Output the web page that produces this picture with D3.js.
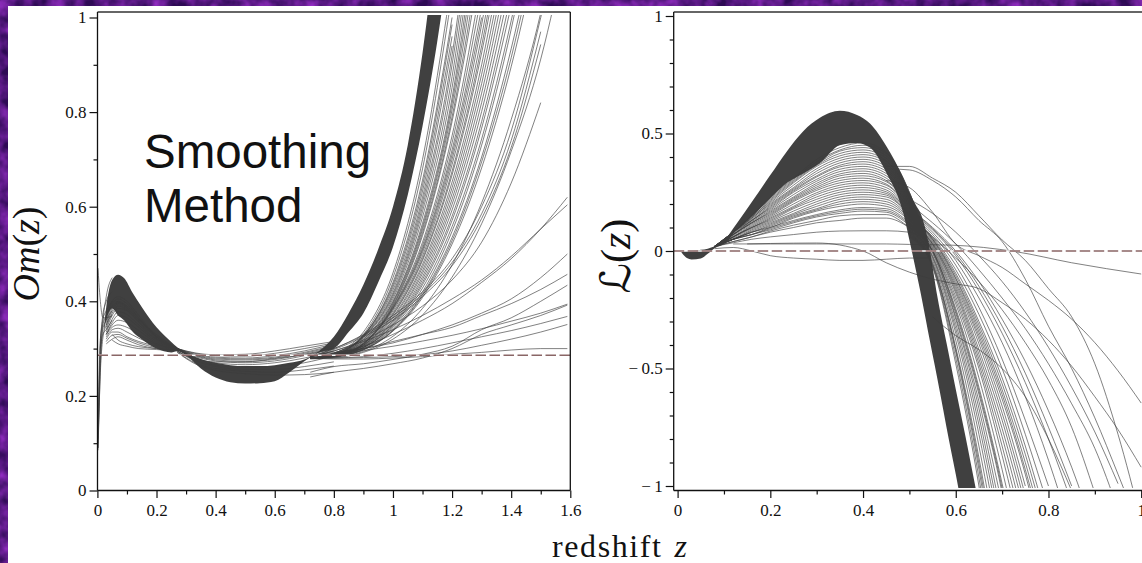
<!DOCTYPE html>
<html>
<head>
<meta charset="utf-8">
<script src="https://cdnjs.cloudflare.com/ajax/libs/d3/7.8.5/d3.min.js"></script>
<style>
  html, body { margin: 0; padding: 0; background: #3c0c74; overflow: hidden; }
  text { font-family: "Liberation Serif", serif; fill: #111; }
</style>
</head>
<body>
<svg id="chart" width="1142" height="563"></svg>
<script>
// --- left panel, Om(z) ---
const omYMajor = [0, 0.2, 0.4, 0.6, 0.8, 1];
const omYMinor = [0.1, 0.3, 0.5, 0.7, 0.9];
const omXMajor = [0, 0.2, 0.4, 0.6, 0.8, 1, 1.2, 1.4, 1.6];
const omXMinor = [0.1, 0.3, 0.5, 0.7, 0.9, 1.1, 1.3, 1.5];
const omReference = 0.286;

// the part where the curves are too dense to tell apart
const omBandZ = [0.02, 0.03, 0.05, 0.07, 0.09, 0.12, 0.15, 0.2, 0.25, 0.27, 0.3, 0.35, 0.4, 0.45, 0.5, 0.55, 0.6, 0.65, 0.7, 0.75, 0.8, 0.85, 0.9, 0.95, 1, 1.05, 1.1, 1.15, 1.2];
const omBandTop = [0.33, 0.388, 0.445, 0.456, 0.449, 0.417, 0.388, 0.345, 0.314, 0.303, 0.292, 0.278, 0.27, 0.265, 0.263, 0.263, 0.265, 0.27, 0.277, 0.295, 0.325, 0.375, 0.435, 0.51, 0.6, 0.73, 0.925, 1.18, 1.45];
const omBandBottom = [0.33, 0.36, 0.385, 0.37, 0.36, 0.335, 0.32, 0.3, 0.292, 0.295, 0.286, 0.258, 0.239, 0.229, 0.226, 0.227, 0.231, 0.25, 0.273, 0.292, 0.3, 0.335, 0.375, 0.44, 0.515, 0.625, 0.77, 0.95, 1.17];

const omSpikeZ = [0.002, 0.005, 0.01, 0.018, 0.03, 0.05];
const omSpikes = [
  [0.085, 0.15, 0.26, 0.35, 0.41, 0.45],
  [0.1, 0.19, 0.3, 0.37, 0.4, 0.42],
  [0.47, 0.44, 0.4, 0.366, 0.365, 0.37],
  [0.09, 0.17, 0.28, 0.34, 0.36, 0.38],
  [0.09, 0.16, 0.25, 0.32, 0.35, 0.37],
  [0.11, 0.2, 0.31, 0.36, 0.38, 0.4],
  [0.12, 0.22, 0.32, 0.35, 0.37, 0.39],
  [null, null, 0.3, 0.33, 0.34, 0.36],
];

const omLobeZ = [0.03, 0.05, 0.07, 0.1, 0.14, 0.2, 0.27];
const omLobes = [
  [0.37, 0.4, 0.41, 0.4, 0.37, 0.325, 0.3],
  [0.365, 0.395, 0.405, 0.395, 0.365, 0.322, 0.3],
  [0.36, 0.39, 0.4, 0.39, 0.365, 0.325, 0.3],
  [0.355, 0.385, 0.398, 0.387, 0.362, 0.328, 0.3],
  [0.35, 0.38, 0.395, 0.385, 0.36, 0.33, 0.3],
  [0.345, 0.375, 0.39, 0.382, 0.357, 0.325, 0.3],
  [0.34, 0.37, 0.385, 0.38, 0.355, 0.32, 0.3],
  [0.335, 0.362, 0.378, 0.372, 0.35, 0.318, 0.3],
  [0.33, 0.355, 0.37, 0.365, 0.345, 0.315, 0.3],
  [0.33, 0.35, 0.36, 0.355, 0.338, 0.312, 0.299],
  [0.33, 0.345, 0.35, 0.345, 0.33, 0.31, 0.298],
  [0.325, 0.34, 0.343, 0.335, 0.322, 0.308, 0.298],
  [0.32, 0.335, 0.335, 0.325, 0.315, 0.305, 0.297],
  [0.315, 0.328, 0.33, 0.322, 0.312, 0.302, 0.297],
  [0.31, 0.32, 0.325, 0.318, 0.308, 0.3, 0.296],
  [null, 0.318, 0.31, 0.305, 0.3, 0.298, 0.295],
  [null, 0.33, 0.318, 0.31, 0.304, 0.3, 0.296],
];

const omMidZ = [0.27, 0.33, 0.4, 0.5, 0.6, 0.7, 0.8];
const omMids = [
  [0.3, 0.291, 0.287, 0.288, 0.295, 0.305, 0.315],
  [0.3, 0.29, 0.285, 0.284, 0.29, 0.3, 0.312],
  [0.3, 0.288, 0.282, 0.28, 0.285, 0.295, 0.31],
  [0.3, 0.287, 0.28, 0.278, 0.282, 0.292, 0.307],
  [0.3, 0.286, 0.278, 0.276, 0.28, 0.29, 0.305],
  [0.299, 0.285, 0.276, 0.273, 0.277, 0.288, 0.302],
  [0.298, 0.283, 0.274, 0.27, 0.274, 0.285, 0.3],
  [0.298, 0.28, 0.27, 0.266, 0.27, 0.28, 0.295],
  [0.295, 0.278, 0.272, 0.272, 0.279, 0.287, 0.3],
  [0.295, 0.276, 0.265, 0.26, 0.262, 0.27, 0.285],
  [0.295, 0.274, 0.262, 0.256, 0.256, 0.262, 0.272],
  [0.293, 0.27, 0.258, 0.252, 0.25, 0.255, 0.263],
  [0.292, 0.268, 0.254, 0.247, 0.244, 0.245, 0.25],
];

const omRiseZ = [0.72, 0.8, 0.9, 1, 1.1, 1.2, 1.3, 1.4, 1.5, 1.59];
const omRises = [
  // the ones that reach the right edge
  [0.283, 0.3, 0.33, 0.37, 0.42, 0.49, 0.6, 0.76, 1, 1.25],
  [0.283, 0.3, 0.328, 0.365, 0.415, 0.482, 0.585, 0.74, 0.97],
  [0.283, 0.298, 0.325, 0.36, 0.41, 0.475, 0.575, 0.725, 0.943],
  [0.282, 0.295, 0.318, 0.35, 0.39, 0.445, 0.525, 0.65, 0.82],
  [0.28, 0.29, 0.305, 0.33, 0.36, 0.395, 0.44, 0.49, 0.553, 0.62],
  [0.283, 0.295, 0.315, 0.34, 0.37, 0.405, 0.445, 0.495, 0.553, 0.604],
  [0.285, 0.292, 0.3, 0.312, 0.33, 0.35, 0.375, 0.405, 0.45, 0.5],
  [0.283, 0.29, 0.3, 0.315, 0.33, 0.345, 0.37, 0.395, 0.425, 0.457],
  [0.25, 0.262, 0.268, 0.277, 0.288, 0.305, 0.34, 0.365, 0.4, 0.434],
  [0.283, 0.288, 0.296, 0.305, 0.316, 0.328, 0.342, 0.358, 0.375, 0.394],
  [0.24, 0.25, 0.258, 0.268, 0.28, 0.3, 0.33, 0.35, 0.37, 0.392],
  [0.278, 0.28, 0.283, 0.29, 0.3, 0.312, 0.325, 0.338, 0.353, 0.368],
  [0.28, 0.28, 0.281, 0.283, 0.287, 0.295, 0.307, 0.32, 0.335, 0.351],
  [0.28, 0.278, 0.278, 0.28, 0.283, 0.288, 0.292, 0.297, 0.3, 0.3],
  // the ones that leave through the top
  [0.28, 0.281, 0.292, 0.32, 0.371, 0.451, 0.564, 0.717, 0.912, 1.16],
  [0.28, 0.282, 0.294, 0.326, 0.385, 0.477, 0.608, 0.784, 1.01, 1.29],
  [0.28, 0.283, 0.297, 0.337, 0.408, 0.521, 0.682, 0.896, 1.17],
  [0.28, 0.283, 0.298, 0.338, 0.412, 0.528, 0.695, 0.915, 1.2],
  [0.28, 0.283, 0.298, 0.339, 0.415, 0.535, 0.705, 0.934, 1.22],
  [0.28, 0.283, 0.299, 0.342, 0.42, 0.548, 0.73, 0.975, 1.3],
  [0.28, 0.283, 0.3, 0.345, 0.428, 0.558, 0.743, 0.993, 1.3],
  [0.28, 0.284, 0.302, 0.348, 0.435, 0.571, 0.766, 1.025],
  [0.28, 0.284, 0.302, 0.35, 0.44, 0.58, 0.78, 1.05],
  [0.28, 0.284, 0.302, 0.352, 0.446, 0.593, 0.801, 1.08],
  [0.28, 0.284, 0.303, 0.355, 0.452, 0.605, 0.82, 1.11],
  [0.28, 0.285, 0.304, 0.358, 0.459, 0.616, 0.84, 1.14],
  [0.28, 0.285, 0.305, 0.36, 0.465, 0.628, 0.86, 1.17],
  [0.28, 0.285, 0.306, 0.364, 0.472, 0.64, 0.88, 1.2],
  [0.28, 0.285, 0.307, 0.367, 0.478, 0.652, 0.9, 1.24],
  [0.28, 0.285, 0.307, 0.371, 0.486, 0.667, 0.925, 1.27],
  [0.28, 0.285, 0.308, 0.373, 0.49, 0.675, 0.94, 1.3],
  [0.28, 0.285, 0.309, 0.376, 0.496, 0.689, 0.96, 1.33],
  [0.28, 0.285, 0.31, 0.38, 0.503, 0.7, 0.985, 1.36],
  [0.28, 0.285, 0.31, 0.383, 0.508, 0.71, 1],
  [0.28, 0.285, 0.31, 0.385, 0.512, 0.72, 1.02],
  [0.28, 0.285, 0.311, 0.386, 0.518, 0.735, 1.05],
  [0.28, 0.286, 0.312, 0.388, 0.525, 0.75, 1.08],
  [0.28, 0.286, 0.313, 0.39, 0.539, 0.78, 1.13],
  [0.28, 0.286, 0.315, 0.392, 0.545, 0.79, 1.16],
  [0.28, 0.286, 0.316, 0.395, 0.552, 0.805, 1.2],
  [0.28, 0.286, 0.318, 0.398, 0.558, 0.818, 1.24],
  [0.28, 0.286, 0.32, 0.4, 0.565, 0.83, 1.28],
  [0.28, 0.287, 0.32, 0.405, 0.578, 0.852, 1.31],
  [0.28, 0.287, 0.323, 0.41, 0.59, 0.875, 1.35],
  [0.28, 0.287, 0.324, 0.414, 0.6, 0.9, 1.38],
  [0.28, 0.287, 0.325, 0.418, 0.61, 0.92, 1.42],
  [0.28, 0.288, 0.326, 0.424, 0.62, 0.94],
  [0.28, 0.288, 0.327, 0.43, 0.633, 0.96],
  [0.28, 0.29, 0.328, 0.435, 0.645, 0.985],
  [0.28, 0.29, 0.327, 0.44, 0.656, 1],
  [0.28, 0.29, 0.33, 0.45, 0.68, 1.05],
  [0.28, 0.29, 0.335, 0.46, 0.7, 1.08],
];

// --- right panel, L(z) ---
const ellYMajor = [-1, -0.5, 0, 0.5, 1];
const ellYMinor = [-0.9, -0.8, -0.7, -0.6, -0.4, -0.3, -0.2, -0.1, 0.1, 0.2, 0.3, 0.4, 0.6, 0.7, 0.8, 0.9];
const ellXMajor = [0, 0.2, 0.4, 0.6, 0.8, 1];
const ellXMinor = [0.1, 0.3, 0.5, 0.7, 0.9];
const ellReference = 0;

const ellBandZ = [0.008, 0.02, 0.03, 0.05, 0.065, 0.08, 0.1, 0.128, 0.163, 0.2, 0.236, 0.271, 0.307, 0.35, 0.387, 0.415, 0.451, 0.487, 0.5, 0.516, 0.523, 0.54, 0.56, 0.573, 0.58, 0.6, 0.62, 0.642, 0.66];
const ellBandTop = [-0.005, 0, 0, 0.005, 0.01, 0.02, 0.045, 0.118, 0.217, 0.323, 0.425, 0.51, 0.567, 0.597, 0.579, 0.543, 0.444, 0.31, 0.25, 0.188, 0.165, 0.047, -0.19, -0.323, -0.39, -0.588, -0.78, -1, -1.18];
const ellBandBottom = [-0.005, -0.03, -0.036, -0.032, -0.012, 0.012, 0.03, 0.09, 0.153, 0.225, 0.29, 0.33, 0.374, 0.45, 0.46, 0.44, 0.33, 0.16, 0.047, -0.1, -0.166, -0.34, -0.54, -0.675, -0.75, -0.95, -1.16, -1.38, -1.58];

const ellArcZ = [0.08, 0.12, 0.16, 0.2, 0.25, 0.3, 0.35, 0.4, 0.45, 0.5, 0.54];
const ellArcs = [
  [0.02, 0.08, 0.15, 0.23, 0.31, 0.39, 0.44, 0.46, 0.42, 0.25, 0.02],
  [0.02, 0.08, 0.15, 0.225, 0.305, 0.38, 0.43, 0.45, 0.415, 0.25, 0.02],
  [0.02, 0.08, 0.15, 0.22, 0.3, 0.37, 0.425, 0.44, 0.405, 0.24, 0.02],
  [0.02, 0.08, 0.145, 0.215, 0.295, 0.365, 0.415, 0.43, 0.395, 0.24, 0.02],
  [0.02, 0.08, 0.145, 0.21, 0.29, 0.36, 0.405, 0.42, 0.385, 0.235, 0.02],
  [0.02, 0.08, 0.14, 0.205, 0.28, 0.35, 0.395, 0.41, 0.38, 0.23, 0.02],
  [0.02, 0.08, 0.14, 0.2, 0.27, 0.34, 0.385, 0.4, 0.37, 0.225, 0.02],
  [0.02, 0.08, 0.135, 0.195, 0.265, 0.33, 0.375, 0.39, 0.36, 0.22, 0.02],
  [0.02, 0.08, 0.13, 0.19, 0.26, 0.32, 0.365, 0.38, 0.35, 0.215, 0.02],
  [0.02, 0.075, 0.13, 0.185, 0.255, 0.315, 0.358, 0.37, 0.34, 0.21, 0.02],
  [0.02, 0.07, 0.13, 0.18, 0.25, 0.305, 0.348, 0.36, 0.33, 0.205, 0.02],
  [0.02, 0.07, 0.125, 0.175, 0.24, 0.297, 0.338, 0.35, 0.32, 0.2, 0.02],
  [0.02, 0.07, 0.12, 0.17, 0.23, 0.288, 0.328, 0.34, 0.31, 0.195, 0.02],
  [0.02, 0.07, 0.12, 0.165, 0.225, 0.28, 0.32, 0.33, 0.3, 0.19, 0.02],
  [0.02, 0.07, 0.12, 0.16, 0.22, 0.272, 0.31, 0.32, 0.295, 0.185, 0.02],
  [0.02, 0.065, 0.115, 0.155, 0.215, 0.265, 0.3, 0.31, 0.285, 0.18, 0.03],
  [0.02, 0.06, 0.11, 0.15, 0.21, 0.258, 0.29, 0.3, 0.28, 0.175, 0.03],
  [0.02, 0.06, 0.105, 0.145, 0.2, 0.248, 0.28, 0.29, 0.27, 0.17, 0.03],
  [0.02, 0.06, 0.1, 0.14, 0.19, 0.24, 0.27, 0.28, 0.26, 0.165, 0.03],
  [0.02, 0.06, 0.1, 0.135, 0.185, 0.23, 0.26, 0.27, 0.252, 0.16, 0.03],
  [0.02, 0.06, 0.1, 0.13, 0.18, 0.22, 0.25, 0.26, 0.245, 0.155, 0.03],
  [0.02, 0.055, 0.095, 0.125, 0.17, 0.21, 0.24, 0.25, 0.238, 0.15, 0.03],
  [0.02, 0.05, 0.09, 0.12, 0.16, 0.2, 0.23, 0.24, 0.23, 0.15, 0.03],
  [0.02, 0.05, 0.085, 0.115, 0.155, 0.19, 0.22, 0.23, 0.22, 0.145, 0.04],
  [0.02, 0.05, 0.08, 0.11, 0.15, 0.18, 0.21, 0.22, 0.21, 0.14, 0.04],
  [0.02, 0.05, 0.08, 0.105, 0.145, 0.175, 0.2, 0.21, 0.2, 0.135, 0.04],
  [0.02, 0.05, 0.08, 0.1, 0.14, 0.17, 0.19, 0.2, 0.19, 0.13, 0.04],
  [0.02, 0.05, 0.07, 0.1, 0.13, 0.155, 0.175, 0.185, 0.18, 0.12, 0.04],
  [0.02, 0.05, 0.07, 0.095, 0.125, 0.15, 0.168, 0.178, 0.172, 0.115, 0.04],
  [0.02, 0.05, 0.07, 0.09, 0.12, 0.145, 0.16, 0.17, 0.165, 0.11, 0.04],
  [0.02, 0.04, 0.06, 0.085, 0.11, 0.13, 0.15, 0.155, 0.155, 0.1, 0.04],
  [0.02, 0.04, 0.06, 0.08, 0.1, 0.12, 0.13, 0.14, 0.14, 0.1, 0.04],
  [0.02, 0.035, 0.05, 0.06, 0.07, 0.08, 0.085, 0.086, 0.086, 0.08, 0.04],
  [0.01, 0.015, 0.0, -0.02, -0.03, -0.035, -0.04, -0.04, -0.035, -0.03, -0.03],
];

// far outliers, seen over the whole range
const ellLongZ = [0.12, 0.15, 0.2, 0.3, 0.4, 0.45, 0.5, 0.59, 0.73, 0.85, 1];
const ellLongs = [
  [0.03, 0.03, 0.03, 0.03, 0.03, 0.03, 0.028, 0.025, -0.003, -0.05, -0.098],
];

const ellFanZ = [0.5, 0.55, 0.6, 0.65, 0.7, 0.75, 0.8, 0.85, 0.9, 0.95, 1];
const ellFans = [
  [0.06, -0.07, -0.48, -1, -1.66],
  [0.065, -0.065, -0.455, -0.965, -1.6],
  [0.07, -0.06, -0.43, -0.93, -1.55],
  [0.075, -0.055, -0.42, -0.905, -1.5],
  [0.08, -0.05, -0.41, -0.88, -1.46],
  [0.085, -0.04, -0.38, -0.83, -1.38],
  [0.09, -0.03, -0.35, -0.78, -1.3],
  [0.09, -0.025, -0.33, -0.74, -1.24],
  [0.095, -0.02, -0.31, -0.705, -1.19],
  [0.1, -0.01, -0.29, -0.67, -1.14],
  [0.1, -0.005, -0.28, -0.64, -1.08],
  [0.1, 0, -0.265, -0.61, -1.03, -1.6],
  [0.105, 0, -0.255, -0.595, -1.01, -1.53],
  [0.11, 0, -0.245, -0.58, -0.99, -1.47],
  [0.115, 0.005, -0.225, -0.54, -0.93, -1.37],
  [0.12, 0.01, -0.21, -0.5, -0.87, -1.28],
  [0.12, 0.015, -0.195, -0.48, -0.83, -1.22],
  [0.12, 0.02, -0.18, -0.46, -0.79, -1.17],
  [0.125, 0.025, -0.17, -0.44, -0.755, -1.12],
  [0.13, 0.03, -0.16, -0.42, -0.72, -1.08],
  [0.13, 0.03, -0.15, -0.395, -0.69, -1.04],
  [0.13, 0.035, -0.14, -0.375, -0.66, -1],
  [0.14, 0.04, -0.13, -0.36, -0.63, -0.95, -1.35],
  [0.145, 0.045, -0.12, -0.345, -0.61, -0.93, -1.3],
  [0.15, 0.05, -0.115, -0.33, -0.59, -0.9, -1.26],
  [0.15, 0.05, -0.105, -0.315, -0.565, -0.865, -1.21],
  [0.15, 0.055, -0.095, -0.3, -0.54, -0.83, -1.17],
  [0.155, 0.06, -0.08, -0.27, -0.5, -0.78, -1.09],
  [0.16, 0.07, -0.06, -0.24, -0.46, -0.72, -1],
  [0.17, 0.08, -0.04, -0.2, -0.39, -0.62, -0.89, -1.2],
  [0.17, 0.09, -0.02, -0.17, -0.35, -0.56, -0.8, -1.07],
  [0.18, 0.095, -0.01, -0.15, -0.32, -0.52, -0.75, -1],
  [0.18, 0.1, 0, -0.13, -0.29, -0.47, -0.68, -0.92, -1.2],
  [0.15, 0.06, -0.03, -0.13, -0.25, -0.39, -0.55, -0.75, -1.03],
  [0.2, 0.12, 0.03, -0.08, -0.2, -0.33, -0.48, -0.65, -0.84, -1.1],
  [0.22, 0.16, 0.08, -0.02, -0.13, -0.26, -0.41, -0.58, -0.77, -0.99],
  [null, -0.28, -0.36, -0.42, -0.5, -0.62, -0.8, -1.02],
];

// the high arcs that come out of the right side of the hump
const ellHighZ = [0.45, 0.5, 0.55, 0.6, 0.65, 0.7, 0.75, 0.8, 0.85, 0.9, 0.95, 1];
const ellHighs = [
  [0.3, 0.27, 0.165, 0.03, -0.02, -0.07, -0.14, -0.21, -0.29, -0.39, -0.51, -0.647],
  [0.35, 0.345, 0.3, 0.23, 0.13, 0.04, -0.12, -0.32, -0.5, -0.71, -0.95, -1.2],
  [0.36, 0.36, 0.31, 0.25, 0.15, 0.047, -0.04, -0.16, -0.28, -0.48, -0.78, -1.15],
];

// curve that dips below zero and carries on to the far right
const ellDipZ = [0.15, 0.2, 0.3, 0.4, 0.45, 0.5, 0.55, 0.6, 0.65, 0.7, 0.75, 0.8, 0.85, 0.9, 0.95, 1];
const ellDip = [0.03, 0.032, 0.034, 0, -0.05, -0.09, -0.12, -0.14, -0.16, -0.22, -0.29, -0.38, -0.49, -0.62, -0.76, -0.92];

const svg = d3.select('#chart');

// purple mottled backdrop, only the thin border of it shows
const defs = svg.append('defs');
defs.append('filter')
  .attr('id', 'mottle')
  .call((f) => f.append('feTurbulence')
    .attr('type', 'fractalNoise')
    .attr('baseFrequency', 0.06)
    .attr('numOctaves', 3)
    .attr('seed', 4))
  .call((f) => f.append('feColorMatrix')
    .attr('values', '0 0 0 0 0.33  0 0 0 0 0.03  0 0 0 0 0.6  1.6 0 0 0 -0.4'));

svg.append('rect').attr('width', 1142).attr('height', 563).attr('fill', '#2e0a55');
svg.append('rect').attr('width', 1142).attr('height', 563).attr('filter', 'url(#mottle)');
svg.append('rect').attr('x', 8).attr('y', 6).attr('width', 1134).attr('height', 557).attr('fill', '#fff');

const toPoints = (zs, row) => row
  .map((v, i) => [zs[i], v])
  .filter((d) => d[1] !== null);

/**
 * Draw one panel
 * @param {obj} opts scales, curves and axis values of the panel
 */
function drawPanel(opts) {
  const {
    id, x, y, frame, clip, band, families,
    yMajor, yMinor, xMajor, xMinor, reference, labelEnd,
  } = opts;
  const g = svg.append('g').attr('class', id);

  defs.append('clipPath').attr('id', `clip-${id}`)
    .append('rect')
    .attr('x', clip.left)
    .attr('y', clip.top)
    .attr('width', clip.right - clip.left)
    .attr('height', clip.bottom - clip.top);

  const marks = g.append('g').attr('clip-path', `url(#clip-${id})`);

  const area = d3.area()
    .x((d) => x(d.z))
    .y0((d) => y(d.bottom))
    .y1((d) => y(d.top))
    .curve(d3.curveMonotoneX);
  marks.append('path')
    .datum(band.z.map((z, i) => ({ z, top: band.top[i], bottom: band.bottom[i] })))
    .attr('fill', '#404040')
    .attr('d', area);

  const line = d3.line()
    .x((d) => x(d[0]))
    .y((d) => y(d[1]))
    .curve(d3.curveMonotoneX);

  families.forEach((family) => {
    marks.selectAll(null)
      .data(family.rows)
      .join('path')
      .attr('fill', 'none')
      .attr('stroke', '#3c3c3c')
      .attr('stroke-width', 0.65)
      .attr('d', (row) => line(toPoints(family.z, row)));
  });

  // reference line: long brown dashes with white gaps
  const refY = y(reference);
  g.append('line')
    .attr('x1', frame.left).attr('x2', frame.right)
    .attr('y1', refY).attr('y2', refY)
    .attr('stroke', '#fff')
    .attr('stroke-width', 1.6);
  g.append('line')
    .attr('x1', frame.left).attr('x2', frame.right)
    .attr('y1', refY).attr('y2', refY)
    .attr('stroke', '#8a6666')
    .attr('stroke-width', 1.6)
    .attr('stroke-dasharray', '10.5 3.5');

  // frame
  g.append('path')
    .attr('d', `M${frame.left},${frame.top}H${frame.right}`)
    .attr('stroke', '#333')
    .attr('stroke-width', 1.6);
  g.append('line')
    .attr('x1', frame.left).attr('x2', frame.left)
    .attr('y1', frame.top).attr('y2', frame.bottom)
    .attr('stroke', '#111')
    .attr('stroke-width', 1.3);
  if (frame.closed) {
    g.append('line')
      .attr('x1', frame.right).attr('x2', frame.right)
      .attr('y1', frame.top).attr('y2', frame.bottom)
      .attr('stroke', '#111')
      .attr('stroke-width', 1.3);
  }
  g.append('line')
    .attr('x1', frame.left).attr('x2', frame.right)
    .attr('y1', frame.bottom).attr('y2', frame.bottom)
    .attr('stroke', '#111')
    .attr('stroke-width', 1.3);

  // axes
  const minus = (d) => String(d).replace('-', '\u2212\u2009');
  const styleAxis = (sel) => {
    sel.select('.domain').remove();
    sel.selectAll('line').attr('stroke', '#111').attr('stroke-width', 1.2);
    sel.selectAll('text')
      .style('font-size', '17px')
      .attr('fill', '#111');
  };
  g.append('g')
    .attr('transform', `translate(${frame.left},0)`)
    .call(d3.axisLeft(y).tickValues(yMajor).tickSize(8).tickPadding(labelEnd).tickFormat(minus))
    .call(styleAxis);
  g.append('g')
    .attr('transform', `translate(${frame.left},0)`)
    .call(d3.axisLeft(y).tickValues(yMinor).tickSize(4).tickFormat(''))
    .call(styleAxis);
  g.append('g')
    .attr('transform', `translate(0,${frame.bottom})`)
    .call(d3.axisBottom(x).tickValues(xMajor).tickSize(7.5).tickPadding(6).tickFormat(minus))
    .call(styleAxis);
  g.append('g')
    .attr('transform', `translate(0,${frame.bottom})`)
    .call(d3.axisBottom(x).tickValues(xMinor).tickSize(4).tickFormat(''))
    .call(styleAxis);
}

drawPanel({
  id: 'om',
  x: d3.scaleLinear().domain([0, 1.6]).range([97.4, 570.3]),
  y: d3.scaleLinear().domain([0, 1]).range([490.5, 17.5]),
  frame: { left: 97.5, right: 570.3, top: 12, bottom: 490.5, closed: true },
  clip: { left: 97, right: 569, top: 15, bottom: 490 },
  band: { z: omBandZ, top: omBandTop, bottom: omBandBottom },
  families: [
    { z: omSpikeZ, rows: omSpikes },
    { z: omLobeZ, rows: omLobes },
    { z: omMidZ, rows: omMids },
    { z: omRiseZ, rows: omRises },
  ],
  yMajor: omYMajor,
  yMinor: omYMinor,
  xMajor: omXMajor,
  xMinor: omXMinor,
  reference: omReference,
  labelEnd: 3,
});

drawPanel({
  id: 'ell',
  x: d3.scaleLinear().domain([0, 1]).range([677.6, 1141.2]),
  y: d3.scaleLinear().domain([-1, 1]).range([486, 16]),
  frame: { left: 673.7, right: 1142, top: 12, bottom: 490.5, closed: false },
  clip: { left: 674, right: 1142, top: 13, bottom: 488 },
  band: { z: ellBandZ, top: ellBandTop, bottom: ellBandBottom },
  families: [
    { z: ellArcZ, rows: ellArcs },
    { z: ellLongZ, rows: ellLongs },
    { z: ellFanZ, rows: ellFans },
    { z: ellHighZ, rows: ellHighs },
    { z: ellDipZ, rows: [ellDip] },
  ],
  yMajor: ellYMajor,
  yMinor: ellYMinor,
  xMajor: ellXMajor,
  xMinor: ellXMinor,
  reference: ellReference,
  labelEnd: 3,
});

// annotation
svg.append('g')
  .selectAll('text')
  .data(['Smoothing', 'Method'])
  .join('text')
  .attr('x', 144)
  .attr('y', (d, i) => 168 + i * 54)
  .style('font-family', '"Liberation Sans", sans-serif')
  .style('font-size', '47.5px')
  .attr('fill', '#000')
  .text((d) => d);

// axis titles
svg.append('text')
  .attr('transform', 'translate(39,254) rotate(-90)')
  .attr('text-anchor', 'middle')
  .style('font-size', '38px')
  .call((t) => t.append('tspan').style('font-style', 'italic').text('Om'))
  .call((t) => t.append('tspan').text('('))
  .call((t) => t.append('tspan').style('font-style', 'italic').text('z'))
  .call((t) => t.append('tspan').text(')'));

svg.append('text')
  .attr('transform', 'translate(630,256) rotate(-90)')
  .attr('text-anchor', 'middle')
  .style('font-size', '42px')
  .call((t) => t.append('tspan').style('font-family', '"DejaVu Sans"').style('font-style', 'italic').text('\u2112'))
  .call((t) => t.append('tspan').text('('))
  .call((t) => t.append('tspan').style('font-style', 'italic').text('z'))
  .call((t) => t.append('tspan').text(')'));

svg.append('text')
  .attr('x', 552)
  .attr('y', 556.5)
  .style('font-size', '32px')
  .call((t) => t.append('tspan').style('letter-spacing', '1.6px').text('redshift'))
  .call((t) => t.append('tspan').attr('dx', 12).style('font-style', 'italic').text('z'));
</script>
</body>
</html>
